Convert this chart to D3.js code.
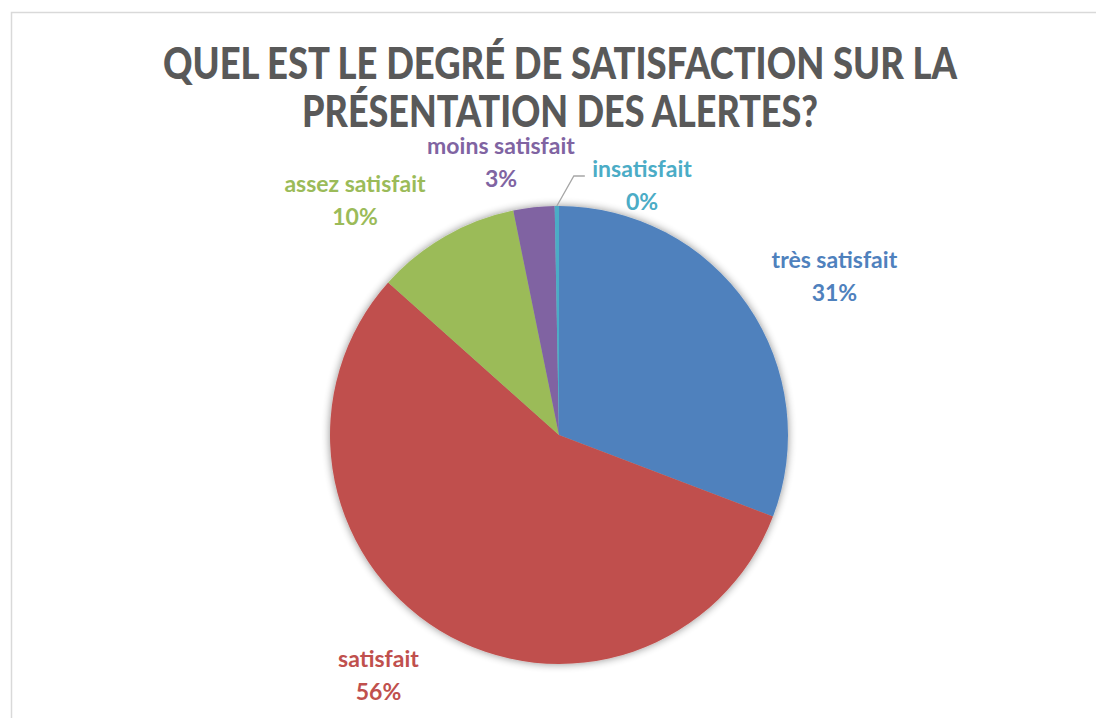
<!DOCTYPE html>
<html>
<head>
<meta charset="utf-8">
<script src="https://cdn.jsdelivr.net/npm/d3@7"></script>
<style>
  html, body { margin: 0; padding: 0; background: #fff; }
  svg { display: block; }
</style>
</head>
<body>
<div id="chart"></div>
<script>
// data (share of answers, %)
const categories = ["très satisfait", "satisfait", "assez satisfait", "moins satisfait", "insatisfait"];
const values = [30.8, 55.8, 10.2, 2.9, 0.3];
const percentLabels = ["31%", "56%", "10%", "3%", "0%"];
const titleLines = ["QUEL EST LE DEGRÉ DE SATISFACTION SUR LA", "PRÉSENTATION DES ALERTES?"];

const colors = ["#4F81BD", "#C0504D", "#9BBB59", "#8064A2", "#4BACC6"];

// label placement (angle in degrees clockwise from top, distance from centre)
const labelAngle = [60, 217, 319, 348, 18.4];
const labelDist = [318, 300, 311, 279, 263];

const W = 1096, H = 718;
const cx = 559, cy = 435, R = 229;

const svg = d3.select("#chart").append("svg")
    .attr("width", W).attr("height", H)
    .attr("viewBox", `0 0 ${W} ${H}`);

// chart-area frame (only top and left edges are in view)
svg.append("path")
    .attr("d", `M11.5,${H} V12.5 H${W}`)
    .attr("fill", "none").attr("stroke", "#d9d9d9").attr("stroke-width", 1.5);

// soft outer shadow like the office chart
const defs = svg.append("defs");
const f = defs.append("filter").attr("id", "shadow")
    .attr("x", "-20%").attr("y", "-20%").attr("width", "140%").attr("height", "140%");
f.append("feGaussianBlur").attr("in", "SourceAlpha").attr("stdDeviation", 4).attr("result", "b");
f.append("feComponentTransfer").attr("in", "b").attr("result", "s")
    .append("feFuncA").attr("type", "linear").attr("slope", 0.45);
const m = f.append("feMerge");
m.append("feMergeNode").attr("in", "s");
m.append("feMergeNode").attr("in", "SourceGraphic");

// title
const title = svg.append("g")
    .attr("font-family", "Lato, 'Open Sans', sans-serif")
    .attr("font-weight", 900)
    .attr("font-size", 43)
    .attr("fill", "#595959")
    .attr("text-anchor", "middle");
const titleWidths = [794, 516];
titleLines.forEach((t, i) => {
    title.append("text")
        .attr("x", 560).attr("y", 79 + i * 48)
        .attr("textLength", titleWidths[i])
        .attr("lengthAdjust", "spacingAndGlyphs")
        .text(t);
});

// pie
const pie = d3.pie().sort(null).value(d => d);
const arcs = pie(values);
const arc = d3.arc().innerRadius(0).outerRadius(R);

const g = svg.append("g").attr("transform", `translate(${cx},${cy})`);
g.append("g").attr("filter", "url(#shadow)")
    .selectAll("path")
    .data(arcs)
    .join("path")
    .attr("d", arc)
    .attr("fill", (d, i) => colors[i]);

// leader line for the tiny slice
const tiny = arcs[4];
const ta = (tiny.startAngle + tiny.endAngle) / 2;
const p0 = [Math.sin(ta) * R, -Math.cos(ta) * R];
g.append("polyline")
    .attr("points", [p0, [p0[0] + 17, p0[1] - 30], [p0[0] + 28, p0[1] - 30]].map(p => p.join(",")).join(" "))
    .attr("fill", "none").attr("stroke", "#A6A6A6").attr("stroke-width", 1.3);

// data labels
const labels = g.append("g")
    .attr("font-family", "Lato, 'Open Sans', sans-serif")
    .attr("font-weight", 700)
    .attr("font-size", 23)
    .attr("text-anchor", "middle");
categories.forEach((c, i) => {
    const a = labelAngle[i] * Math.PI / 180;
    const x = Math.sin(a) * labelDist[i];
    const y = -Math.cos(a) * labelDist[i];
    const t = labels.append("text").attr("fill", colors[i]);
    t.append("tspan").attr("x", x).attr("y", y - 8).text(c);
    t.append("tspan").attr("x", x).attr("y", y + 25).text(percentLabels[i]);
});
</script>
</body>
</html>
